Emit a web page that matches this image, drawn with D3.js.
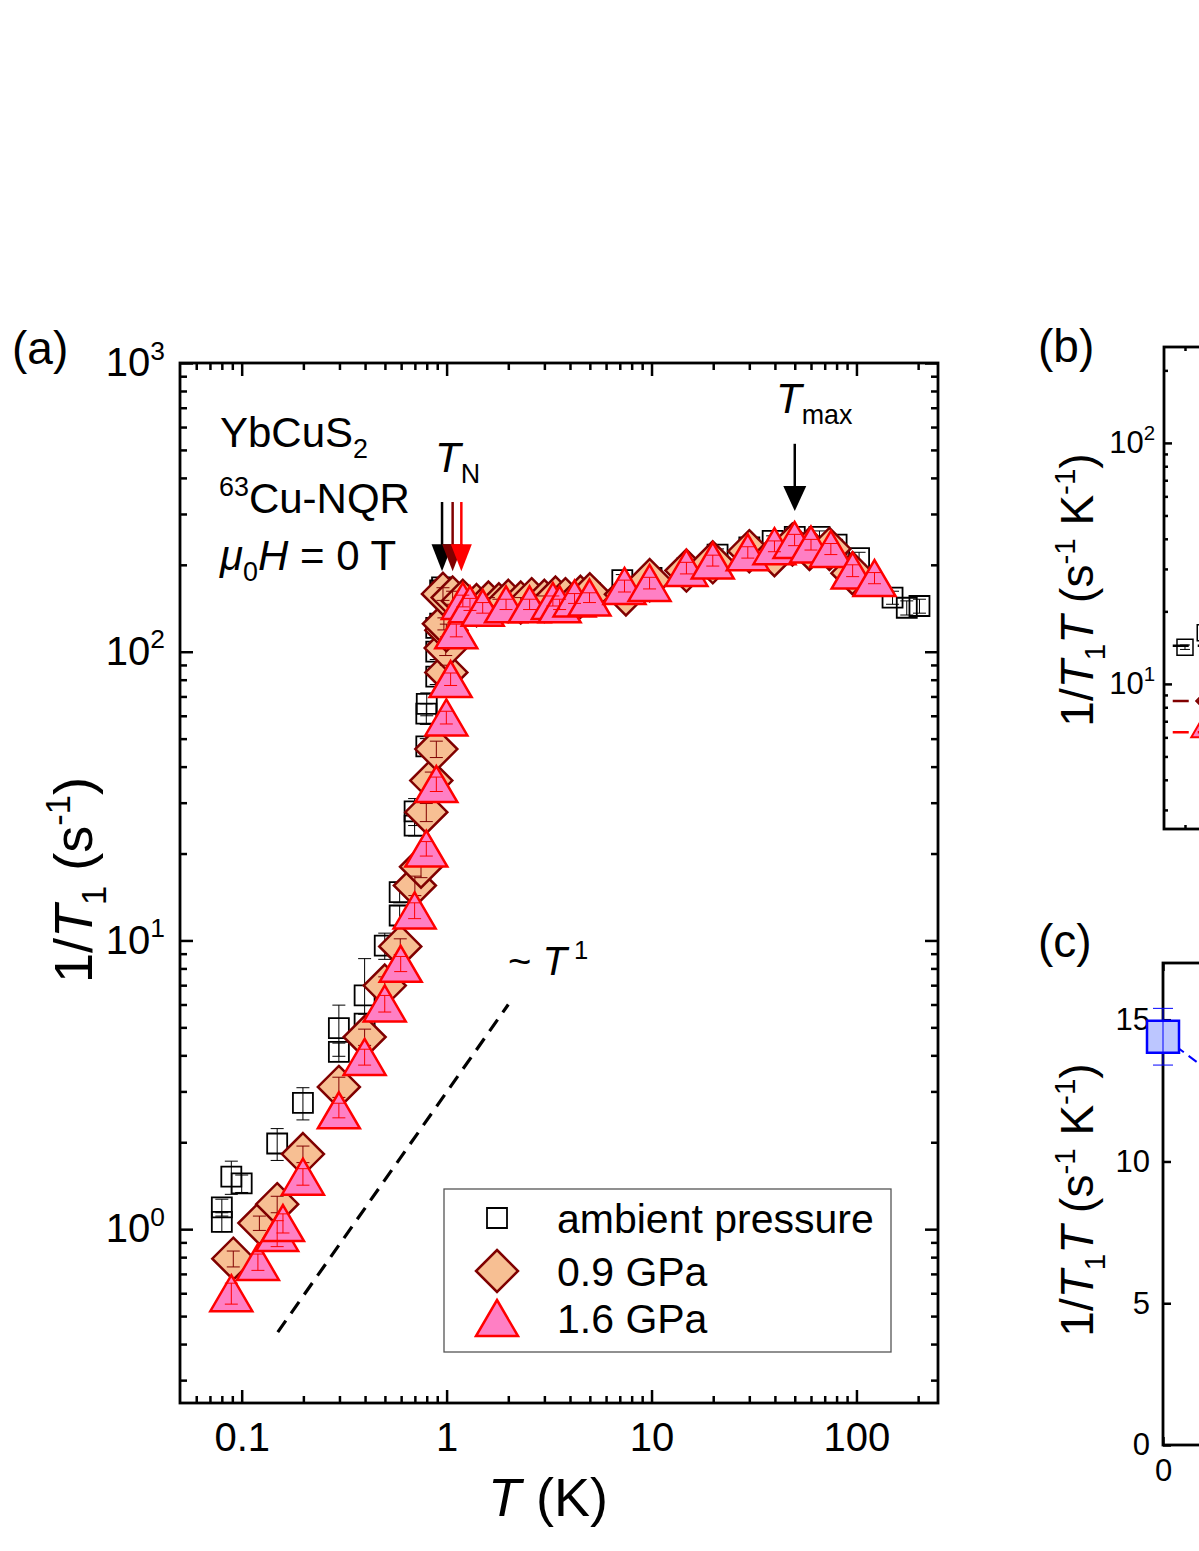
<!DOCTYPE html>
<html>
<head>
<meta charset="utf-8">
<script src="https://cdn.jsdelivr.net/npm/d3@7"></script>
<style>
body { margin: 0; background: #fff; }
svg { display: block; font-family: 'Liberation Sans', Arial, sans-serif; }
</style>
</head>
<body>
<div id="chart"></div>
<script>
// ---- data: [T (K), 1/T1 (s^-1), error] ----
var ambient = [
    [0.080, 1.06, 0.08], [0.080, 1.19, 0.08], [0.089, 1.52, 0.2], [0.100, 1.44, 0.1],
    [0.149, 1.98, 0.25], [0.199, 2.74, 0.35], [0.298, 4.11, 0.3], [0.298, 4.97, 1.0],
    [0.398, 5.15, 0.4], [0.398, 6.45, 2.2], [0.499, 9.6, 1.0], [0.59, 12.2, 1.0],
    [0.59, 14.7, 1.2], [0.698, 25, 2], [0.698, 28, 3], [0.796, 47, 3], [0.796, 61, 5],
    [0.80, 66, 6], [0.89, 82, 5], [0.89, 100, 6], [0.89, 121, 6], [0.93, 125, 6],
    [0.93, 163, 8], [0.95, 167, 8], [1.1, 150, 6], [1.3, 148, 6], [1.6, 150, 6],
    [2.0, 152, 6], [2.5, 155, 6], [3.0, 157, 6], [4.0, 158, 6], [5.0, 160, 6],
    [7.2, 177, 8], [10, 180, 8], [15, 195, 8], [21, 217, 10], [30, 230, 10],
    [39, 242, 10], [50, 250, 12], [66, 250, 12], [80, 235, 10], [103, 211, 10],
    [150, 154, 8], [176, 142, 8], [203, 144, 8]
];
var gpa09 = [
    [0.091, 0.79, 0.05], [0.122, 1.05, 0.06], [0.149, 1.22, 0.08], [0.199, 1.82, 0.12],
    [0.298, 3.11, 0.25], [0.398, 4.63, 0.3], [0.499, 6.98, 0.5], [0.594, 9.53, 0.6],
    [0.70, 15.5, 1.2], [0.75, 18.0, 1.5], [0.796, 27.8, 2], [0.842, 35.8, 2.5],
    [0.891, 46, 3], [0.997, 84.8, 5], [0.99, 103, 6], [0.997, 118.6, 6], [0.97, 125, 6],
    [0.96, 158.6, 8], [1.07, 154, 8], [1.2, 150, 6], [1.4, 145, 6], [1.6, 148, 6],
    [1.8, 146, 6], [2.0, 150, 6], [2.3, 148, 6], [2.6, 152, 6], [3.0, 150, 6],
    [3.4, 154, 6], [3.8, 152, 6], [4.5, 155, 6], [5.0, 158, 6], [7.5, 158, 7],
    [9.8, 177, 8], [14.8, 191, 8], [19.9, 204, 9], [30, 223, 10], [39.8, 216, 10],
    [48.7, 235, 10], [59, 227, 10], [73.8, 227, 10], [95.6, 187, 9]
];
var gpa16 = [
    [0.089, 0.60, 0.05], [0.120, 0.77, 0.05], [0.149, 0.97, 0.1], [0.159, 1.05, 0.08],
    [0.199, 1.52, 0.1], [0.298, 2.58, 0.15], [0.398, 3.95, 0.25], [0.499, 6.05, 0.4],
    [0.597, 8.3, 0.5], [0.698, 12.7, 0.8], [0.796, 20.8, 1.2], [0.891, 34.8, 2],
    [0.997, 59.2, 3], [1.046, 80.4, 4], [1.115, 118.6, 6], [1.2, 150, 7], [1.3, 146, 7],
    [1.5, 142, 6], [1.95, 146, 6], [2.54, 146, 6], [3.3, 150, 6], [3.56, 146, 6],
    [4.21, 153, 6], [4.98, 154, 6], [7.38, 169, 8], [9.78, 173, 8], [14.8, 195, 9],
    [19.9, 207, 9], [29.5, 221, 10], [39.8, 232, 10], [49.9, 244, 11], [60, 235, 10],
    [75, 227, 10], [95.8, 191, 9], [122.5, 180, 8]
];
var seriesNames = ['ambient pressure', '0.9 GPa', '1.6 GPa'];
var tnValues = [0.95, 1.07, 1.18];
var tnColors = ['#000000', '#800000', '#ff0000'];
var arrowRange = [330, 190];
var tmaxValue = 50;
var tmaxRange = [525, 307];
var guideT = [0.15, 2.0];
var guideV = [0.44, 6.0];

var xMajorA = [0.1, 1, 10, 100];
var xMinorA = [0.06, 0.07, 0.08, 0.09, 0.2, 0.3, 0.4, 0.5, 0.6, 0.7, 0.8, 0.9,
    2, 3, 4, 5, 6, 7, 8, 9, 20, 30, 40, 50, 60, 70, 80, 90, 200];
var yMajorA = [1, 10, 100, 1000];
var yMinorA = [0.3, 0.4, 0.5, 0.6, 0.7, 0.8, 0.9, 2, 3, 4, 5, 6, 7, 8, 9,
    20, 30, 40, 50, 60, 70, 80, 90, 200, 300, 400, 500, 600, 700, 800, 900];

// panel (b): 1/T1T, only the left edge is in view
var ambientB = [[0.08, 14.2, 0.3], [0.091, 16.3, 0.4]];
var gpa09B = [[0.0945, 8.5, 0.3]];
var gpa16B = [[0.0916, 6.8, 0.3]];
var constB = [14.4, 8.5, 6.3];
var constBRange = [0.074, 0.6];
var xMajorB = [0.1, 1, 10];
var xMinorB = [0.08, 0.09, 0.2, 0.3, 0.4, 0.5, 0.6, 0.7, 0.8, 0.9];
var yMajorB = [10, 100];
var yMinorB = [3, 4, 5, 6, 7, 8, 9, 20, 30, 40, 50, 60, 70, 80, 90, 200];

// panel (c): constant 1/T1T against pressure
var pressureC = [0, 0.9, 1.6];
var korringaC = [14.4, 8.5, 6.3];
var korringaErrC = [1.0, 0.5, 0.5];
var xMajorC = [0, 0.5, 1, 1.5, 2];
var yMajorC = [0, 5, 10, 15];

var W = 1199, H = 1551;
var svg = d3.select('#chart').append('svg').attr('width', W).attr('height', H);
svg.append('rect').attr('width', W).attr('height', H).attr('fill', '#fff');

function squarePath(s) {
    var h = s / 2;
    return 'M' + (-h) + ',' + (-h) + 'H' + h + 'V' + h + 'H' + (-h) + 'Z';
}
function diamondPath(r) {
    return 'M0,' + (-r) + 'L' + r + ',0L0,' + r + 'L' + (-r) + ',0Z';
}
function trianglePath(w, h) {
    return 'M0,' + (-h / 2) + 'L' + (w / 2) + ',' + (h / 2) + 'L' + (-w / 2) + ',' + (h / 2) + 'Z';
}

function richText(parent, x, y, parts, size, anchor) {
    var t = parent.append('text').attr('x', x).attr('y', y)
        .attr('font-size', size).attr('text-anchor', anchor || 'start').attr('fill', '#000');
    var off = 0;
    parts.forEach(function (p) {
        var s = t.append('tspan').text(p.t);
        var o = p.sub ? 0.26 * size : (p.sup ? -0.4 * size : 0);
        if (o != off) s.attr('dy', o - off);
        off = o;
        if (p.sub || p.sup) s.attr('font-size', size * 0.64);
        if (p.i) s.attr('font-style', 'italic');
    });
    return t;
}

function powerLabels(g, size) {
    g.selectAll('.tick text').each(function (d) {
        var t = d3.select(this);
        t.text('');
        t.append('tspan').text('10');
        t.append('tspan').attr('dy', -size * 0.42).attr('font-size', size * 0.66)
            .text(Math.round(Math.log10(d)));
    });
}

// one axis = major ticks (with or without labels) + minor ticks, ticks point inward
function addAxis(axisFn, scale, tr, major, minor, majLen, minLen, pad, fmt, size, power) {
    var g = svg.append('g').attr('transform', tr);
    var gMaj = g.append('g');
    gMaj.call(axisFn(scale).tickValues(major).tickSize(-majLen).tickPadding(pad)
        .tickFormat(fmt === null ? '' : fmt));
    gMaj.selectAll('.tick text').attr('font-size', size).attr('fill', '#000');
    if (power && fmt !== null) powerLabels(gMaj, size);
    if (minor) {
        var gMin = g.append('g');
        gMin.call(axisFn(scale).tickValues(minor).tickSize(-minLen).tickFormat(''));
        gMin.selectAll('.tick text').remove();
    }
    if (fmt === null) gMaj.selectAll('.tick text').remove();
    g.selectAll('.domain').remove();
    g.selectAll('.tick line').attr('stroke', '#000').attr('stroke-width', 2.5);
    g.selectAll('g').attr('font-family', null);
    return g;
}

function drawErrors(g, data, x, y, color, cap) {
    data.forEach(function (d) {
        var cx = x(d[0]), y1 = y(d[1] - d[2]), y2 = y(d[1] + d[2]);
        g.append('line').attr('x1', cx).attr('x2', cx).attr('y1', y1).attr('y2', y2)
            .attr('stroke', color).attr('stroke-width', 1);
        [y1, y2].forEach(function (yy) {
            g.append('line').attr('x1', cx - cap / 2).attr('x2', cx + cap / 2)
                .attr('y1', yy).attr('y2', yy).attr('stroke', color).attr('stroke-width', 1);
        });
    });
}

function drawSeries(g, data, x, y, s, cap) {
    g.selectAll(null).data(data).enter().append('path')
        .attr('d', s.path)
        .attr('transform', function (d) { return 'translate(' + x(d[0]) + ',' + y(d[1]) + ')'; })
        .attr('fill', s.fill).attr('stroke', s.stroke).attr('stroke-width', s.sw);
    drawErrors(g, data, x, y, s.stroke, cap);
}

function arrow(g, cx, yTop, yTip, color, headW, headH) {
    g.append('line').attr('x1', cx).attr('x2', cx).attr('y1', yTop).attr('y2', yTip - headH + 2)
        .attr('stroke', color).attr('stroke-width', 2.5);
    g.append('path').attr('d', 'M' + (cx - headW / 2) + ',' + (yTip - headH) + 'L' + (cx + headW / 2) + ','
        + (yTip - headH) + 'L' + cx + ',' + yTip + 'Z').attr('fill', color);
}

// ================= panel (a) =================
var L = 180, R = 938, T = 363, B = 1403;
var x = d3.scaleLog().domain([0.05, 250]).range([L, R]);
var y = d3.scaleLog().domain([0.25, 1000]).range([B, T]);

addAxis(d3.axisBottom, x, 'translate(0,' + B + ')', xMajorA, xMinorA, 13, 7, 20, d3.format('~g'), 40);
addAxis(d3.axisTop, x, 'translate(0,' + T + ')', xMajorA, xMinorA, 13, 7, 0, null, 40);
addAxis(d3.axisLeft, y, 'translate(' + L + ',0)', yMajorA, yMinorA, 13, 7, 15, d3.format('~g'), 40, true);
addAxis(d3.axisRight, y, 'translate(' + R + ',0)', yMajorA, yMinorA, 13, 7, 0, null, 40);
svg.append('rect').attr('x', L).attr('y', T).attr('width', R - L).attr('height', B - T)
    .attr('fill', 'none').attr('stroke', '#000').attr('stroke-width', 2.8);

var styles = [
    { path: squarePath(20), fill: 'none', stroke: '#000000', sw: 1.8 },
    { path: diamondPath(21), fill: '#f7bf93', stroke: '#800000', sw: 2.5 },
    { path: trianglePath(42, 36), fill: '#ff7fc4', stroke: '#ff0000', sw: 2.5 }
];
var dataA = [ambient, gpa09, gpa16];
var plot = svg.append('g');

// ~T guide
plot.append('line').attr('x1', x(guideT[0])).attr('y1', y(guideV[0]))
    .attr('x2', x(guideT[1])).attr('y2', y(guideV[1]))
    .attr('stroke', '#000').attr('stroke-width', 3.2).attr('stroke-dasharray', '14,9');

dataA.forEach(function (d, i) { drawSeries(plot.append('g'), d, x, y, styles[i], 13); });

// arrows
tnValues.forEach(function (t, i) {
    arrow(plot, x(t), y(arrowRange[0]), y(arrowRange[1]), tnColors[i], 21, 27);
});
arrow(plot, x(tmaxValue), y(tmaxRange[0]), y(tmaxRange[1]), '#000', 23, 25);

richText(svg, 435, 472, [{ t: 'T', i: true }, { t: 'N', sub: true }], 42);
richText(svg, 776, 413, [{ t: 'T', i: true }, { t: 'max', sub: true }], 42);
richText(svg, 220, 447, [{ t: 'YbCuS' }, { t: '2', sub: true }], 42);
richText(svg, 219, 513, [{ t: '63', sup: true }, { t: 'Cu-NQR' }], 42);
richText(svg, 220, 570, [{ t: 'μ', i: true }, { t: '0', sub: true }, { t: 'H', i: true }, { t: ' = 0 T' }], 42);
richText(svg, 508, 975, [{ t: '~ ' }, { t: 'T', i: true }, { t: ' 1', sup: true }], 40);

// legend
var lg = svg.append('g');
lg.append('rect').attr('x', 444).attr('y', 1189).attr('width', 447).attr('height', 163)
    .attr('fill', '#fff').attr('stroke', '#555').attr('stroke-width', 1.3);
var legendY = [1218, 1271, 1318];
seriesNames.forEach(function (n, i) {
    lg.append('path').attr('d', styles[i].path)
        .attr('transform', 'translate(497,' + legendY[i] + ')')
        .attr('fill', styles[i].fill).attr('stroke', styles[i].stroke).attr('stroke-width', styles[i].sw);
    lg.append('text').attr('x', 557).attr('y', legendY[i] + 15).attr('font-size', 41).text(n);
});

richText(svg, 548, 1516, [{ t: 'T', i: true }, { t: ' (K)' }], 54, 'middle');
var ytA = svg.append('g').attr('transform', 'translate(92,880) rotate(-90)');
richText(ytA, 0, 0, [{ t: '1/' }, { t: 'T', i: true }, { t: '1', sub: true }, { t: ' (s' },
    { t: '-1', sup: true }, { t: ')' }], 54, 'middle');
svg.append('text').attr('x', 12).attr('y', 364).attr('font-size', 46).text('(a)');

// ================= panel (b) =================
var Lb = 1164, Tb = 347, Bb = 829;
var xb = d3.scaleLog().domain([0.07, 10]).range([Lb, Lb + 362 * Math.log10(10 / 0.07)]);
var yb = d3.scaleLog().domain([2.5, 250]).range([Bb, Tb]);
addAxis(d3.axisBottom, xb, 'translate(0,' + Bb + ')', xMajorB, xMinorB, 8, 4, 10, d3.format('~g'), 31);
addAxis(d3.axisTop, xb, 'translate(0,' + Tb + ')', xMajorB, xMinorB, 8, 4, 0, null, 31);
addAxis(d3.axisLeft, yb, 'translate(' + Lb + ',0)', yMajorB, yMinorB, 8, 4, 9, d3.format('~g'), 31, true);
svg.append('rect').attr('x', Lb).attr('y', Tb).attr('width', 800).attr('height', Bb - Tb)
    .attr('fill', 'none').attr('stroke', '#000').attr('stroke-width', 2.8);

var stylesB = [
    { path: squarePath(16), fill: 'none', stroke: '#000000', sw: 1.5 },
    { path: diamondPath(15), fill: '#f7bf93', stroke: '#800000', sw: 2 },
    { path: trianglePath(30, 26), fill: '#ff7fc4', stroke: '#ff0000', sw: 2 }
];
var pb = svg.append('g');
[ambientB, gpa09B, gpa16B].forEach(function (d, i) { drawSeries(pb.append('g'), d, xb, yb, stylesB[i], 10); });
constB.forEach(function (v, i) {
    pb.append('line').attr('x1', xb(constBRange[0])).attr('x2', xb(constBRange[1]))
        .attr('y1', yb(v)).attr('y2', yb(v)).attr('stroke', tnColors[i])
        .attr('stroke-width', 2.5).attr('stroke-dasharray', '16,9');
});
var ytB = svg.append('g').attr('transform', 'translate(1093,590) rotate(-90)');
richText(ytB, 0, 0, [{ t: '1/' }, { t: 'T', i: true }, { t: '1', sub: true }, { t: 'T', i: true },
    { t: ' (s' }, { t: '-1', sup: true }, { t: ' K' }, { t: '-1', sup: true }, { t: ')' }], 46, 'middle');
svg.append('text').attr('x', 1038).attr('y', 362).attr('font-size', 46).text('(b)');

// ================= panel (c) =================
var Lc = 1163, Tc = 963, Bc = 1445;
var xc = d3.scaleLinear().domain([0, 2]).range([Lc, Lc + 496]);
var yc = d3.scaleLinear().domain([0, 17]).range([Bc, Tc]);
addAxis(d3.axisBottom, xc, 'translate(0,' + Bc + ')', xMajorC, null, 8, 4, 14, d3.format('~g'), 31);
addAxis(d3.axisTop, xc, 'translate(0,' + Tc + ')', xMajorC, null, 8, 4, 0, null, 31);
addAxis(d3.axisLeft, yc, 'translate(' + Lc + ',0)', yMajorC, null, 8, 4, 13, d3.format('~g'), 31);
svg.append('rect').attr('x', Lc).attr('y', Tc).attr('width', 800).attr('height', Bc - Tc)
    .attr('fill', 'none').attr('stroke', '#000').attr('stroke-width', 2.8);

var pc = svg.append('g');
pc.append('path')
    .attr('d', d3.line().x(function (d) { return xc(d); }).y(function (d, i) { return yc(korringaC[i]); })(pressureC))
    .attr('fill', 'none').attr('stroke', '#0000ff').attr('stroke-width', 2).attr('stroke-dasharray', '10,6');
var dataC = pressureC.map(function (p, i) { return [p, korringaC[i], korringaErrC[i]]; });
drawSeries(pc, dataC, xc, yc, { path: squarePath(32), fill: '#bcc6ff', stroke: '#0000ff', sw: 2.5 }, 20);

var ytC = svg.append('g').attr('transform', 'translate(1093,1200) rotate(-90)');
richText(ytC, 0, 0, [{ t: '1/' }, { t: 'T', i: true }, { t: '1', sub: true }, { t: 'T', i: true },
    { t: ' (s' }, { t: '-1', sup: true }, { t: ' K' }, { t: '-1', sup: true }, { t: ')' }], 46, 'middle');
svg.append('text').attr('x', 1038).attr('y', 957).attr('font-size', 46).text('(c)');
</script>
</body>
</html>
